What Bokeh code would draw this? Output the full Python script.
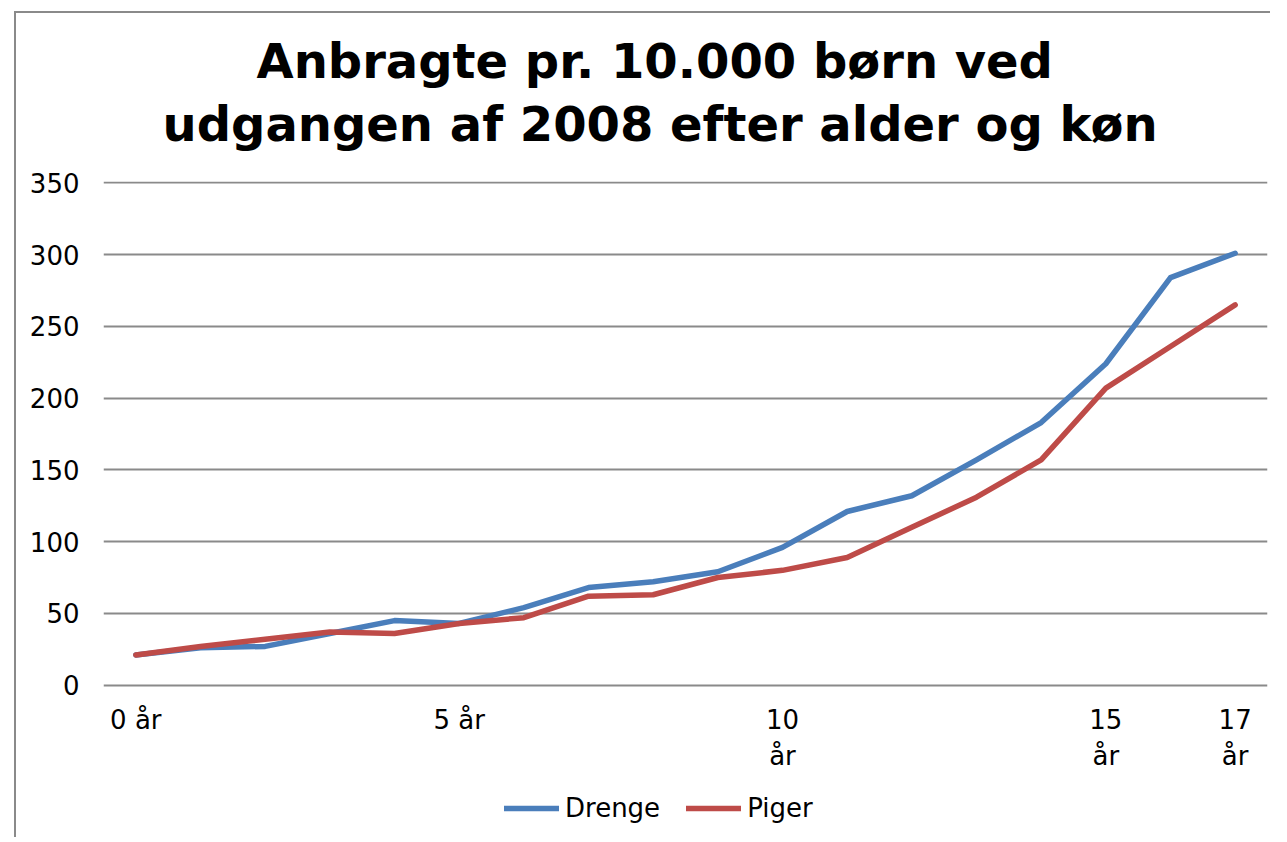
from bokeh.plotting import figure
from bokeh.models import Title, FixedTicker, Legend, LegendItem
from bokeh.embed import file_html
from bokeh.resources import INLINE

ages = list(range(18))
drenge = [21, 26, 27, 36, 45, 43, 54, 68, 72, 79, 96, 121, 132, 157, 183, 224, 284, 301]
piger = [21, 27, 32, 37, 36, 43, 47, 62, 63, 75, 80, 89, 110, 131, 157, 207, 236, 265]
tick_ages = [0, 5, 10, 15, 17]
tick_labels = {0: "0 år", 5: "5 år", 10: "10\når", 15: "15\når", 17: "17\når"}
y_ticks = [0, 50, 100, 150, 200, 250, 300, 350]
title_lines = ["Anbragte pr. 10.000 børn ved", "udgangen af 2008 efter alder og køn"]

FONT = "DejaVu Sans"

# frame extends below zero so the legend can sit under the x-axis labels
p = figure(frame_width=1164, frame_height=650, output_backend="svg", toolbar_location=None,
           x_range=(-0.5, 17.5), y_range=(-102, 351),
           min_border_left=96, min_border_right=3, min_border_top=174, min_border_bottom=6)
p.margin = (7, 0, 0, 7)
# thin grey frame line on the left and top of the chart area
p.styles = {"box-shadow": "inset 7px 4px 0 0 #ffffff, inset 9px 6px 0 0 #8a8a8a",
            "background-color": "#ffffff"}

p.outline_line_color = None
p.background_fill_color = None
p.border_fill_color = None

# titles (first added is nearest the plot)
p.add_layout(Title(text=title_lines[1], text_font=FONT, text_font_size="48px", text_color="black",
                   text_font_style="bold", align="left", offset=59, standoff=60), "above")
p.add_layout(Title(text=title_lines[0], text_font=FONT, text_font_size="48px", text_color="black",
                   text_font_style="bold", align="left", offset=153, standoff=-51), "above")

r1 = p.line(ages, drenge, line_color="#4A7EBB", line_width=5.5, line_cap="round", line_join="round")
r2 = p.line(ages, piger, line_color="#BE4B48", line_width=5.5, line_cap="round", line_join="round")

# axes
p.xaxis.fixed_location = 0
p.xaxis.ticker = FixedTicker(ticks=tick_ages)
p.xaxis.major_label_overrides = tick_labels
p.xaxis.axis_line_color = None
p.xaxis.major_tick_line_color = None
p.xaxis.minor_tick_line_color = None
p.xaxis.major_tick_out = 0
p.xaxis.major_tick_in = 0
p.xaxis.major_label_text_font = FONT
p.xaxis.major_label_text_font_size = "26px"
p.xaxis.major_label_text_color = "black"
p.xaxis.major_label_standoff = 20

p.yaxis.ticker = FixedTicker(ticks=y_ticks)
p.yaxis.axis_line_color = None
p.yaxis.major_tick_line_color = None
p.yaxis.minor_tick_line_color = None
p.yaxis.major_tick_out = 0
p.yaxis.major_tick_in = 0
p.yaxis.major_label_text_font = FONT
p.yaxis.major_label_text_font_size = "26px"
p.yaxis.major_label_text_color = "black"
p.yaxis.major_label_standoff = 24

p.xgrid.grid_line_color = None
p.ygrid.grid_line_color = "#8a8a8a"
p.ygrid.grid_line_width = 2

legend = Legend(items=[LegendItem(label="Drenge", renderers=[r1]),
                       LegendItem(label="Piger", renderers=[r2])],
                orientation="horizontal", location=(401, 8),
                label_text_font=FONT, label_text_font_size="26px", label_text_color="black",
                glyph_width=55, glyph_height=20, label_standoff=6, spacing=26,
                border_line_color=None, background_fill_alpha=0, margin=0, padding=0)
p.add_layout(legend, "center")

open("out.html", "w").write(file_html(p, INLINE))
